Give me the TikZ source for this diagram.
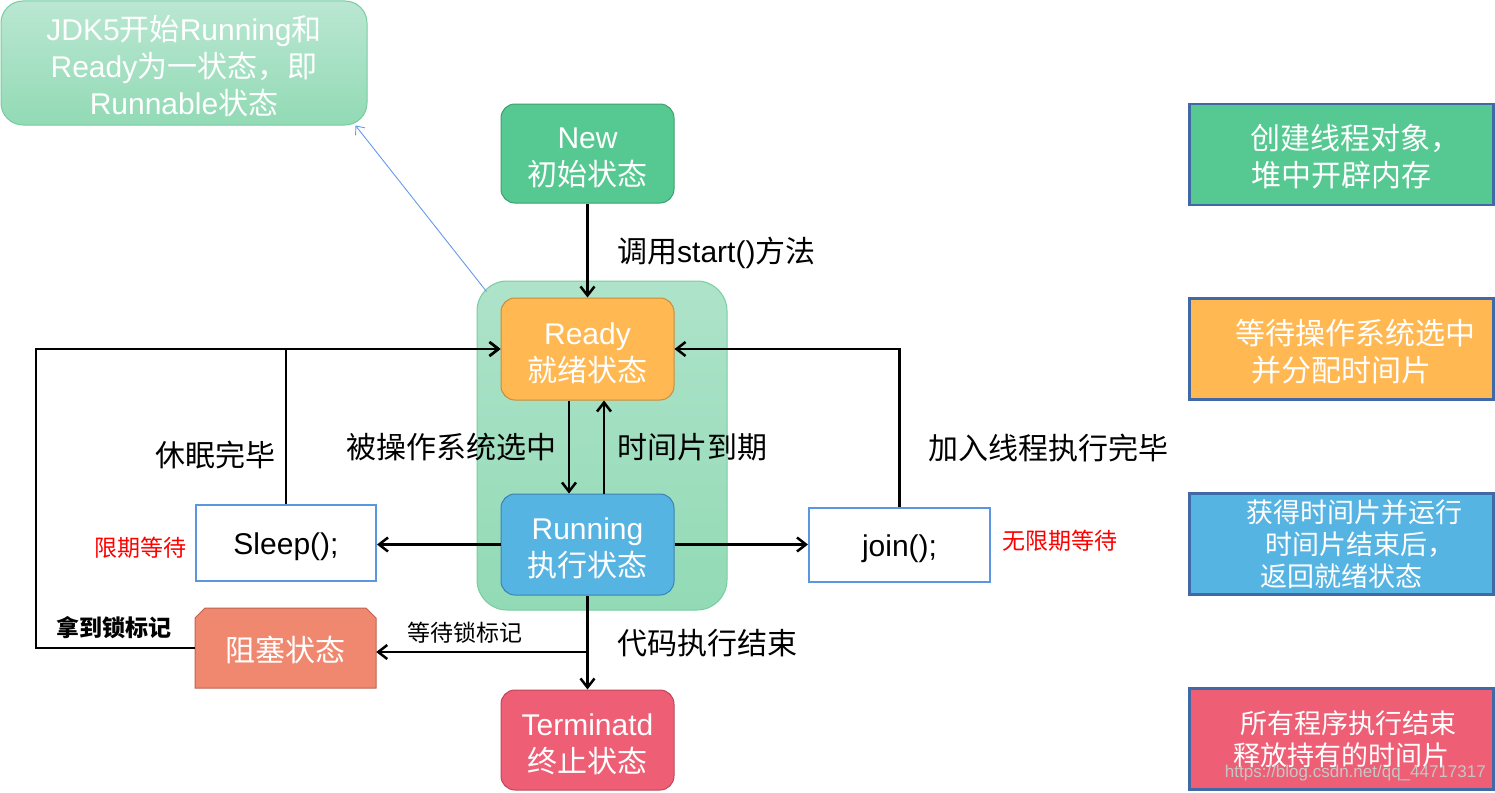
\documentclass[tikz,border=0pt]{standalone}
\usepackage{fontspec}
\setmainfont{Noto Sans CJK SC}
\newfontfamily\lat{Liberation Sans}
\usetikzlibrary{arrows.meta}
\definecolor{newfill}{RGB}{86,201,146}
\definecolor{newbord}{RGB}{60,160,110}
\definecolor{readyfill}{RGB}{255,184,82}
\definecolor{readybord}{RGB}{200,140,60}
\definecolor{runfill}{RGB}{86,180,227}
\definecolor{runbord}{RGB}{60,130,180}
\definecolor{termfill}{RGB}{238,94,117}
\definecolor{termbord}{RGB}{190,70,90}
\definecolor{blkfill}{RGB}{240,136,112}
\definecolor{blkbord}{RGB}{190,100,80}
\definecolor{contop}{RGB}{174,227,202}
\definecolor{conbot}{RGB}{146,218,181}
\definecolor{conbord}{RGB}{120,205,160}
\definecolor{waitbord}{RGB}{91,150,225}
\definecolor{rbord}{RGB}{65,105,165}
\definecolor{noteline}{RGB}{102,153,238}
\newcommand\bigtxt{\fontsize{30}{37}\selectfont}
\newcommand\midtxt{\fontsize{27}{32}\selectfont}
\newcommand\smtxt{\fontsize{23}{28}\selectfont}
\newcommand\lowstrut{\rule{0pt}{30pt}}
\begin{document}
\begin{tikzpicture}[x=1pt,y=-1pt,
  state/.style={draw, line width=1pt, rounded corners=14pt, minimum width=173pt, minimum height=100pt, inner sep=0pt, align=center, text=white, font=\bigtxt},
  rbox/.style={draw=rbord, line width=2.2pt, minimum width=304pt, minimum height=101pt, inner sep=0pt, align=center, text=white},
  waitbox/.style={draw=waitbord, line width=2pt, minimum width=180pt, minimum height=75pt, inner sep=0pt, font=\bigtxt\lat},
  lbl/.style={font=\bigtxt, inner sep=0pt},
  slbl/.style={font=\smtxt, inner sep=0pt},
  arr/.style={line width=2.5pt, -{Straight Barb[length=9pt,width=14pt]}},
  thinarr/.style={draw=noteline, line width=0.9pt, -{Straight Barb[length=7pt,width=12pt]}}
]
\fill[white] (0,0) rectangle (1495,792);
\useasboundingbox (0,0) rectangle (1495,792);

% container and note
\node[draw=conbord, line width=1pt, rounded corners=30pt, top color=contop, bottom color=conbot, minimum width=250pt, minimum height=329pt, inner sep=0pt] (runnable) at (602,445.5) {};
\node[draw=conbord, line width=1pt, rounded corners=22pt, top color=contop!85!white, bottom color=conbot, minimum width=366pt, minimum height=124pt, inner sep=0pt, align=center, text=white, font=\bigtxt] (note) at (184,63)
  {\rule{0pt}{32pt}{\lat JDK5}开始{\lat Running}和\\{\lat Ready}为一状态，即\\{\lat Runnable}状态};

% states
\node[state, fill=newfill, draw=newbord, minimum height=99pt] (new) at (587.5,153.5) {\lowstrut{\lat New}\\初始状态};
\node[state, fill=readyfill, draw=readybord, minimum height=102pt] (ready) at (587.5,349) {\lowstrut{\lat Ready}\\就绪状态};
\node[state, fill=runfill, draw=runbord, minimum height=101pt] (running) at (587.5,544.5) {\lowstrut{\lat Running}\\执行状态};
\node[state, fill=termfill, draw=termbord] (term) at (587.5,740) {\lowstrut{\lat Terminatd}\\终止状态};

% waiting boxes
\node[waitbox, minimum height=76pt] (sleep) at (286,543) {\lowstrut Sleep();};
\node[waitbox, minimum width=181pt, minimum height=74pt] (join) at (899.5,545) {\lowstrut join();};

% blocked
\filldraw[fill=blkfill, draw=blkbord, line width=1pt] (195,618) -- (205,608) -- (366,608) -- (376,618) -- (376,688) -- (195,688) -- cycle;
\node[minimum width=181pt, minimum height=80pt, inner sep=0pt, text=white, font=\bigtxt] (blk) at (285.5,650) {阻塞状态};

% right legend boxes
\node[rbox, fill=newfill, font=\bigtxt] (lg1) at (1341.5,154.5) {\rule{0pt}{30pt}\hspace*{28pt}创建线程对象，\\堆中开辟内存};
\node[rbox, fill=readyfill, font=\bigtxt] (lg2) at (1341.5,349) {\rule{0pt}{30pt}\hspace*{28pt}等待操作系统选中\\并分配时间片};
\node[rbox, fill=runfill, font=\midtxt] (lg3) at (1341.5,544) {\hspace*{26pt}获得时间片并运行\\\hspace*{36pt}时间片结束后，\\返回就绪状态};
\node[rbox, fill=termfill, font=\midtxt] (lg4) at (1341.5,739) {\hspace*{14pt}所有程序执行结束\\释放持有的时间片};

% connectors
\draw[thinarr] ([shift={(10,11)}]runnable.north west) -- ([xshift=-12pt]note.south east);
\draw[arr] (new) -- (ready);
\draw[arr] ([xshift=-18.5pt]ready.south) -- ([xshift=-18.5pt]running.north);
\draw[arr] ([xshift=16.5pt]running.north) -- ([xshift=16.5pt]ready.south);
\draw[arr] (running.west) -- (running.west -| sleep.east);
\draw[arr] (running.east) -- (running.east -| join.west);
\draw[arr] (sleep.north) |- (ready.west);
\draw[arr] (join.north) |- (ready.east);
\draw[arr] (running.south) -- (term.north);
\coordinate (br) at (588,652);
\draw[arr] (br) -- (br -| blk.east);
\coordinate (lc) at (36,648);
\draw[arr] (195,648) -- (lc) |- (ready.west);

% labels
\node[lbl, anchor=west] (l1) at (617,253) {调用{\lat start()}方法};
\node[lbl, anchor=east] (l2) at (557,447) {被操作系统选中};
\node[lbl, anchor=west] (l3) at (617,447) {时间片到期};
\node[lbl] (l4) at (215,455) {休眠完毕};
\node[lbl, anchor=west] (l5) at (928,448) {加入线程执行完毕};
\node[lbl, anchor=west] (l6) at (617,643) {代码执行结束};
\node[slbl, anchor=east, text=red] (l7) at (187,548) {限期等待};
\node[slbl, anchor=west, text=red] (l8) at (1002,541) {无限期等待};
\node[slbl, anchor=west, font=\smtxt\bfseries] (l9) at (56,628) {拿到锁标记};
\node[slbl, anchor=west] (l10) at (407,633) {等待锁标记};
\node[anchor=east, inner sep=0pt, text=gray!45, font=\fontsize{17}{20}\selectfont\lat] (wm) at (1486,773) {https://blog.csdn.net/qq\_44717317};
\end{tikzpicture}
\end{document}
